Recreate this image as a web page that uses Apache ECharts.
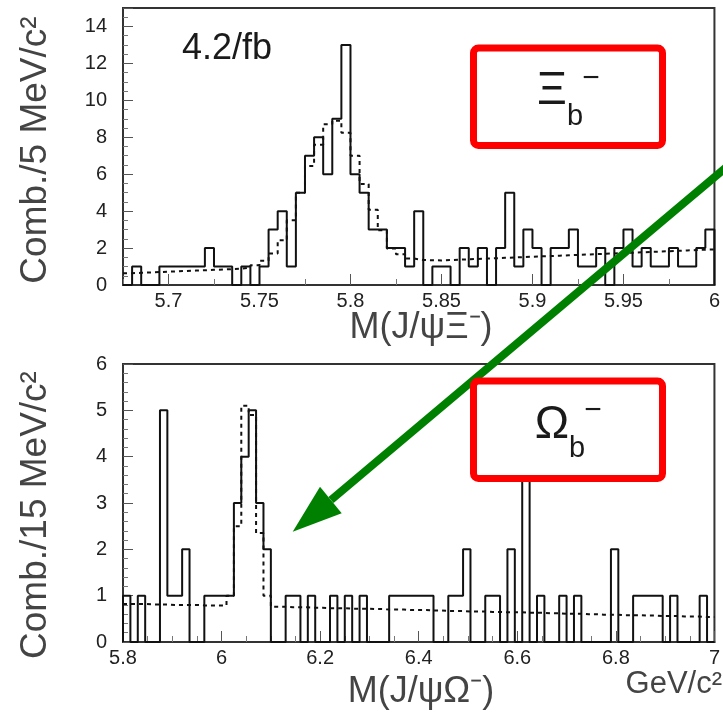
<!DOCTYPE html>
<html>
<head>
<meta charset="utf-8">
<script src="https://cdn.jsdelivr.net/npm/echarts@6/dist/echarts.min.js"></script>
<style>
html,body{margin:0;padding:0;background:#fff;}
#chart{width:723px;height:713px;}
</style>
</head>
<body>
<div id="chart"></div>
<script>
// ---------- data ----------
// Top: M(J/psi Xi-) histogram, 5 MeV bins from 5.675 to 6.000 GeV
const topLo = 5.675, topHi = 6.0, topBinW = 0.005;
const topCounts = [0,1,0,0,1,1,1,1,1,2, 1,1,0,1,0,1,3,4,1,5, 7,8,6,9,13,6,5,3,3,2,
                   2,1,4,0,1,1,0,2,1,2, 0,2,5,1,3,2,0,2,2,3, 1,1,2,0,2,3,1,2,1,1, 2,1,1,2,3];
const topFit = [0.64,0.66,0.68,0.70,0.72,0.74,0.76,0.78,0.80,0.82,
                0.84,0.86,0.88,0.95,1.07,1.31,1.70,2.42,3.50,5.00,
                6.45,7.60,8.70,8.90,8.24,7.00,5.47,4.07,2.96,1.97,
                1.67,1.43,1.36,1.34,1.33,1.35,1.37,1.39,1.41,1.43,
                1.45,1.47,1.49,1.51,1.53,1.55,1.57,1.59,1.61,1.63,
                1.65,1.67,1.69,1.71,1.73,1.75,1.77,1.79,1.81,1.83,
                1.85,1.87,1.89,1.91,1.93];
const topXLabels = [5.7,5.75,5.8,5.85,5.9,5.95,6.0];
const topXMinor = [5.675,5.725,5.775,5.825,5.875,5.925,5.975];

// Bottom: M(J/psi Omega-) histogram, 15 MeV bins from 5.8 to 7.0 GeV
const botLo = 5.8, botHi = 7.0, botBinW = 0.015;
const botCounts = [1,0,1,0,0,5,1,1,2,0, 0,1,1,1,1,3,4,5,3,2,
                   0,0,1,1,0,1,0,0,1,0, 1,0,1,0,0,0,1,1,1,1,
                   1,1,0,0,1,1,2,0,0,1, 1,0,2,0,4,0,1,0,0,1,
                   0,1,0,0,0,0,2,0,0,1, 1,1,1,0,1,0,0,0,1,0];
const botFit = [0.82,0.82,0.82,0.81,0.81,0.81,0.80,0.80,0.80,0.80,
                0.79,0.79,0.79,0.79,1.00,2.50,5.10,4.90,2.35,1.00,
                0.76,0.76,0.75,0.75,0.75,0.74,0.74,0.73,0.73,0.73,
                0.72,0.72,0.72,0.71,0.71,0.70,0.70,0.70,0.69,0.69,
                0.69,0.68,0.68,0.67,0.67,0.67,0.66,0.66,0.66,0.65,
                0.65,0.64,0.64,0.64,0.63,0.63,0.63,0.62,0.62,0.61,
                0.61,0.61,0.60,0.60,0.59,0.59,0.59,0.58,0.58,0.58,
                0.57,0.57,0.56,0.56,0.56,0.55,0.55,0.55,0.54,0.54];

const topYTitle = 'Comb./5 MeV/c²';
const botYTitle = 'Comb./15 MeV/c²';
const topXTitle = 'M(J/ψΞ⁻)';
const botXTitle = 'M(J/ψΩ⁻)';
const unitTitle = 'GeV/c²';
const lumiText = '4.2/fb';

// ---------- helpers ----------
function histData(lo, w, vals) {
  const d = [[lo, 0]];
  vals.forEach((v, i) => d.push([+(lo + i * w).toFixed(4), v]));
  const hi = +(lo + vals.length * w).toFixed(4);
  d.push([hi, vals[vals.length - 1]]);
  d.push([hi, 0]);
  return d;
}
function fitData(lo, w, vals) {
  const d = vals.map((v, i) => [+(lo + i * w).toFixed(4), v]);
  d.push([+(lo + vals.length * w).toFixed(4), vals[vals.length - 1]]);
  return d;
}
const FONT = "'Liberation Sans', Arial, Helvetica, sans-serif";
const fmtNum = v => String(+(+v).toFixed(3));
const axisCol = '#333';
const labelStyle = {color: '#222', fontFamily: FONT, fontSize: 20};

const chart = echarts.init(document.getElementById('chart'), null, {renderer: 'canvas'});

const grids = [
  {left: 123, top: 8, width: 595, height: 277, show: true, borderColor: axisCol, borderWidth: 2, backgroundColor: 'transparent'},
  {left: 123, top: 364, width: 595, height: 278, show: true, borderColor: axisCol, borderWidth: 2, backgroundColor: 'transparent'}
];

const xAxes = [
  { // top main
    type: 'value', gridIndex: 0, min: topLo, max: topHi, interval: 0.025,
    splitLine: {show: false},
    axisLine: {show: true, onZero: false, lineStyle: {color: axisCol, width: 2}},
    axisTick: {show: true, inside: true, length: 11, lineStyle: {color: '#555', width: 1}, customValues: topXLabels},
    axisLabel: Object.assign({margin: 6, customValues: topXLabels, formatter: fmtNum}, labelStyle)
  },
  { // top minor ticks
    type: 'value', gridIndex: 0, min: topLo, max: topHi, interval: 0.025, position: 'bottom',
    splitLine: {show: false}, axisLine: {show: false},
    axisTick: {show: true, inside: true, length: 6, lineStyle: {color: '#777', width: 1}, customValues: topXMinor},
    axisLabel: {show: false}
  },
  { // bottom
    type: 'value', gridIndex: 1, min: botLo, max: botHi, interval: 0.2,
    splitLine: {show: false},
    axisLine: {show: true, onZero: false, lineStyle: {color: axisCol, width: 2}},
    axisTick: {show: true, inside: true, length: 11, lineStyle: {color: '#555', width: 1}},
    minorTick: {show: true, splitNumber: 4, length: 6, lineStyle: {color: '#777', width: 1}},
    axisLabel: Object.assign({margin: 6, formatter: fmtNum}, labelStyle)
  }
];

const yAxes = [
  {
    type: 'value', gridIndex: 0, min: 0, max: 15, interval: 2,
    splitLine: {show: false},
    axisLine: {show: true, lineStyle: {color: axisCol, width: 2}},
    axisTick: {show: true, inside: true, length: 10, lineStyle: {color: '#555', width: 1}},
    minorTick: {show: true, splitNumber: 4, length: 5, lineStyle: {color: '#777', width: 1}},
    axisLabel: Object.assign({margin: 16, showMaxLabel: false, formatter: v => (v > 14 ? '' : String(v))}, labelStyle)
  },
  {
    type: 'value', gridIndex: 1, min: 0, max: 6, interval: 1,
    splitLine: {show: false},
    axisLine: {show: true, lineStyle: {color: axisCol, width: 2}},
    axisTick: {show: true, inside: true, length: 10, lineStyle: {color: '#555', width: 1}},
    minorTick: {show: true, splitNumber: 5, length: 5, lineStyle: {color: '#777', width: 1}},
    axisLabel: Object.assign({margin: 16}, labelStyle)
  }
];

const histLine = {color: '#111', width: 2};
const fitLine = {color: '#111', width: 2, type: [4, 4]};

const series = [
  {type: 'line', xAxisIndex: 0, yAxisIndex: 0, step: 'end', symbol: 'none', data: histData(topLo, topBinW, topCounts), lineStyle: histLine, z: 3},
  {type: 'line', xAxisIndex: 0, yAxisIndex: 0, step: 'end', symbol: 'none', data: fitData(topLo, topBinW, topFit), lineStyle: fitLine, z: 2},
  {type: 'line', xAxisIndex: 2, yAxisIndex: 1, step: 'end', symbol: 'none', data: histData(botLo, botBinW, botCounts), lineStyle: histLine, z: 3},
  {type: 'line', xAxisIndex: 2, yAxisIndex: 1, step: 'end', symbol: 'none', data: fitData(botLo, botBinW, botFit), lineStyle: fitLine, z: 2}
];

const titleFill = '#444';
const graphic = [
  {type: 'text', x: 36, y: 150, rotation: Math.PI / 2, z: 50,
   style: {text: topYTitle, font: '37px ' + FONT, fill: titleFill, align: 'center', verticalAlign: 'middle'}},
  {type: 'text', x: 36, y: 515, rotation: Math.PI / 2, z: 50,
   style: {text: botYTitle, font: '37px ' + FONT, fill: titleFill, align: 'center', verticalAlign: 'middle'}},
  {type: 'text', x: 421, y: 328, z: 50,
   style: {text: topXTitle, font: '36px ' + FONT, fill: titleFill, align: 'center', verticalAlign: 'middle'}},
  {type: 'text', x: 421, y: 692, z: 50,
   style: {text: botXTitle, font: '36px ' + FONT, fill: titleFill, align: 'center', verticalAlign: 'middle'}},
  {type: 'text', x: 722, y: 684, z: 50,
   style: {text: unitTitle, font: '31px ' + FONT, fill: titleFill, align: 'right', verticalAlign: 'middle'}},
  {type: 'text', x: 182, y: 49, z: 50,
   style: {text: lumiText, font: '36px ' + FONT, fill: '#1a1a1a', align: 'left', verticalAlign: 'middle'}},
  // green arrow
  {type: 'polyline', z: 60, shape: {points: [[735, 160], [331, 500]]},
   style: {stroke: '#008000', lineWidth: 8, fill: null}},
  {type: 'polygon', z: 60, shape: {points: [[292.7, 531.7], [320, 486.7], [341.7, 513.3]]},
   style: {fill: '#008000'}},
  // red boxes
  {type: 'rect', z: 70, shape: {x: 473.5, y: 48, width: 189, height: 97.5, r: 5},
   style: {fill: '#fff', stroke: '#ff0000', lineWidth: 7}},
  {type: 'rect', z: 70, shape: {x: 473.5, y: 381, width: 189, height: 97.5, r: 5},
   style: {fill: '#fff', stroke: '#ff0000', lineWidth: 7}},
  {type: 'text', x: 552, y: 91, z: 80,
   style: {text: 'Ξ', font: '46px ' + FONT, fill: '#1a1a1a', align: 'center', verticalAlign: 'middle'}},
  {type: 'text', x: 567, y: 117, z: 80,
   style: {text: 'b', font: '29px ' + FONT, fill: '#1a1a1a', align: 'left', verticalAlign: 'middle'}},
  {type: 'text', x: 591, y: 79, z: 80,
   style: {text: '−', font: '30px ' + FONT, fill: '#1a1a1a', align: 'center', verticalAlign: 'middle'}},
  {type: 'text', x: 552, y: 425, z: 80,
   style: {text: 'Ω', font: '46px ' + FONT, fill: '#1a1a1a', align: 'center', verticalAlign: 'middle'}},
  {type: 'text', x: 569, y: 449, z: 80,
   style: {text: 'b', font: '29px ' + FONT, fill: '#1a1a1a', align: 'left', verticalAlign: 'middle'}},
  {type: 'text', x: 593, y: 411, z: 80,
   style: {text: '−', font: '30px ' + FONT, fill: '#1a1a1a', align: 'center', verticalAlign: 'middle'}}
];

chart.setOption({
  animation: false,
  backgroundColor: '#fff',
  grid: grids,
  xAxis: xAxes,
  yAxis: yAxes,
  series: series,
  graphic: graphic
});
</script>
</body>
</html>
